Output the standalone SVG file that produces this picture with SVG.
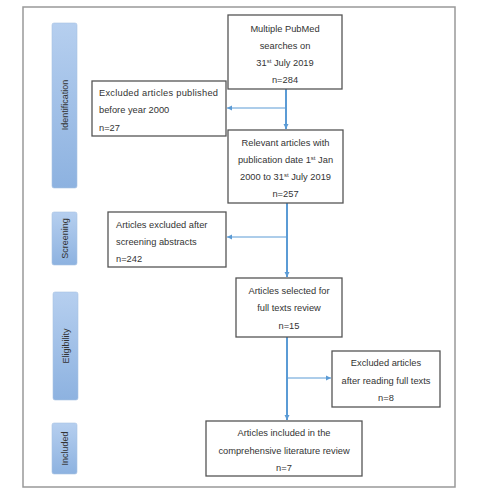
<svg xmlns="http://www.w3.org/2000/svg" width="477" height="496" viewBox="0 0 477 496">
<style>
.box{fill:#fff;stroke:#555;stroke-width:1.3}
.t{font-family:"Liberation Sans",Arial,sans-serif;font-size:9.3px;fill:#333}
.c{text-anchor:middle}
.side{font-family:"Liberation Sans",Arial,sans-serif;font-size:9px;fill:#333;text-anchor:middle}
.bar{fill:url(#g);stroke:#a9c2e2;stroke-width:0.6}
.main{stroke:#5b9bd5;stroke-width:2;fill:none}
.br{stroke:#5b9bd5;stroke-width:1;fill:none}
</style>
<defs>
<linearGradient id="g" x1="0" y1="0" x2="0" y2="1">
<stop offset="0" stop-color="#b6cfef"/>
<stop offset="1" stop-color="#8db2e0"/>
</linearGradient>
<marker id="a" markerWidth="6" markerHeight="6" refX="5" refY="3" orient="auto" markerUnits="userSpaceOnUse">
<path d="M0,0.5 L5,3 L0,5.5 Z" fill="#5b9bd5"/>
</marker>
</defs>
<rect x="0" y="0" width="477" height="496" fill="#fff"/>
<rect x="23" y="7" width="432" height="480" fill="#fff" stroke="#999" stroke-width="1.5"/>

<g id="phase-identification"><rect class="bar" x="52" y="23" width="25" height="165" rx="2"/><text class="side" transform="translate(68,105) rotate(-90)">Identification</text></g>
<g id="phase-screening"><rect class="bar" x="52" y="212" width="25" height="53" rx="2"/><text class="side" transform="translate(68,238.5) rotate(-90)">Screening</text></g>
<g id="phase-eligibility"><rect class="bar" x="53" y="292" width="25" height="108" rx="2"/><text class="side" transform="translate(69,346) rotate(-90)">Eligibility</text></g>
<g id="phase-included"><rect class="bar" x="52" y="423" width="25" height="51" rx="2"/><text class="side" transform="translate(68,448.5) rotate(-90)">Included</text></g>

<g id="connectors">
<line class="main" x1="286" y1="89" x2="286" y2="129" marker-end="url(#a)"/>
<line class="br" x1="286" y1="108" x2="227" y2="108" marker-end="url(#a)"/>
<line class="main" x1="287" y1="203" x2="287" y2="277" marker-end="url(#a)"/>
<line class="br" x1="287" y1="237" x2="227" y2="237" marker-end="url(#a)"/>
<line class="main" x1="287" y1="337" x2="287" y2="420" marker-end="url(#a)"/>
<line class="br" x1="287" y1="378" x2="331" y2="378" marker-end="url(#a)"/>
</g>

<g id="n1"><rect class="box" x="228" y="15" width="114" height="74"/>
<text class="t c" x="285" y="32">Multiple PubMed</text>
<text class="t c" x="285" y="49">searches on</text>
<text class="t c" x="285" y="66">31<tspan font-size="6" dy="-3">st</tspan><tspan dy="3"> July 2019</tspan></text>
<text class="t c" x="285" y="83">n=284</text></g>

<g id="n2"><rect class="box" x="92" y="81" width="134" height="55"/>
<text class="t" x="99" y="96" textLength="119" lengthAdjust="spacing">Excluded articles published</text>
<text class="t" x="99" y="113">before year 2000</text>
<text class="t" x="99" y="131">n=27</text></g>

<g id="n3"><rect class="box" x="228" y="130" width="115" height="73"/>
<text class="t c" x="285.5" y="146">Relevant articles with</text>
<text class="t c" x="285.5" y="163">publication date 1<tspan font-size="6" dy="-3">st</tspan><tspan dy="3"> Jan</tspan></text>
<text class="t c" x="285.5" y="180">2000 to 31<tspan font-size="6" dy="-3">st</tspan><tspan dy="3"> July 2019</tspan></text>
<text class="t c" x="285.5" y="197">n=257</text></g>

<g id="n4"><rect class="box" x="108" y="212" width="118" height="55"/>
<text class="t" x="116" y="228">Articles excluded after</text>
<text class="t" x="116" y="245">screening abstracts</text>
<text class="t" x="116" y="262">n=242</text></g>

<g id="n5"><rect class="box" x="236" y="278" width="106" height="59"/>
<text class="t c" x="289" y="294">Articles selected for</text>
<text class="t c" x="289" y="311">full texts review</text>
<text class="t c" x="289" y="329">n=15</text></g>

<g id="n6"><rect class="box" x="332" y="351" width="108" height="56"/>
<text class="t c" x="386" y="366">Excluded articles</text>
<text class="t c" x="386" y="384">after reading full texts</text>
<text class="t c" x="386" y="401">n=8</text></g>

<g id="n7"><rect class="box" x="206" y="421" width="156" height="55"/>
<text class="t c" x="284" y="436">Articles included in the</text>
<text class="t c" x="284" y="454">comprehensive literature review</text>
<text class="t c" x="284" y="471">n=7</text></g>
</svg>
